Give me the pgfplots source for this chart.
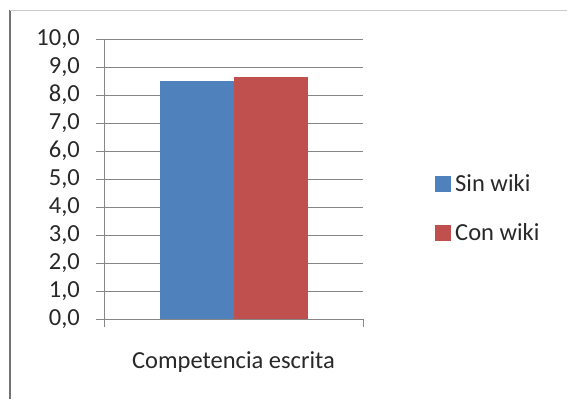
\documentclass[border=0pt]{standalone}
\usepackage{pgfplots}
\pgfplotsset{compat=1.18}
\usepackage{fontspec}
\setmainfont{Carlito}
\definecolor{sinwiki}{RGB}{79,129,189}
\definecolor{conwiki}{RGB}{192,80,77}
\definecolor{gridgray}{RGB}{134,134,134}
\definecolor{txt}{RGB}{40,40,40}
\newcommand{\chartfont}{\fontsize{24.6}{28}\selectfont}
\begin{document}
\begin{tikzpicture}[x=1bp,y=1bp]
\useasboundingbox (0,0) rectangle (567,399);
% chart area frame (left and top edges)
\draw[line width=1.2bp, color=black!55] (10,0) -- (10,389);
\draw[line width=0.8bp, color=black!20] (10,389) -- (567,389);
\begin{axis}[
  at={(104bp,80bp)}, anchor=south west,
  scale only axis, width=259bp, height=280bp,
  xmin=0, xmax=1, ymin=0, ymax=10,
  ybar=0pt, bar width=74bp,
  axis x line*=bottom, axis y line*=left,
  axis line style={gridgray, line width=0.8bp},
  xtick={0,1}, xticklabels={},
  ytick={0,1,...,10},
  tick align=outside, major tick length=8bp,
  tick style={gridgray, line width=0.8bp},
  ymajorgrids, grid style={gridgray, line width=0.8bp},
  /pgf/number format/.cd, fixed, fixed zerofill, precision=1, use comma, assume math mode=true,
  /pgfplots/.cd,
  yticklabel style={font=\chartfont, text=txt, inner sep=0pt, xshift=-16bp},
  legend style={draw=none, fill=none, at={(1.278,0.395)}, anchor=west,
    inner sep=0pt, row sep=22bp, font=\chartfont, text=txt,
    nodes={inner sep=4bp}},
  legend cell align=left,
  legend image code/.code={\fill[#1] (0bp,-8bp) rectangle (16bp,8bp);},
  clip=false,
]
\addplot[fill=sinwiki, draw=none] coordinates {(0.5,8.5)};
\addplot[fill=conwiki, draw=none] coordinates {(0.5,8.63)};
\legend{Sin wiki, Con wiki}
\node[font=\chartfont, text=txt] at (rel axis cs:0.5,0) [yshift=-43bp] {Competencia escrita};
\end{axis}
\end{tikzpicture}
\end{document}
